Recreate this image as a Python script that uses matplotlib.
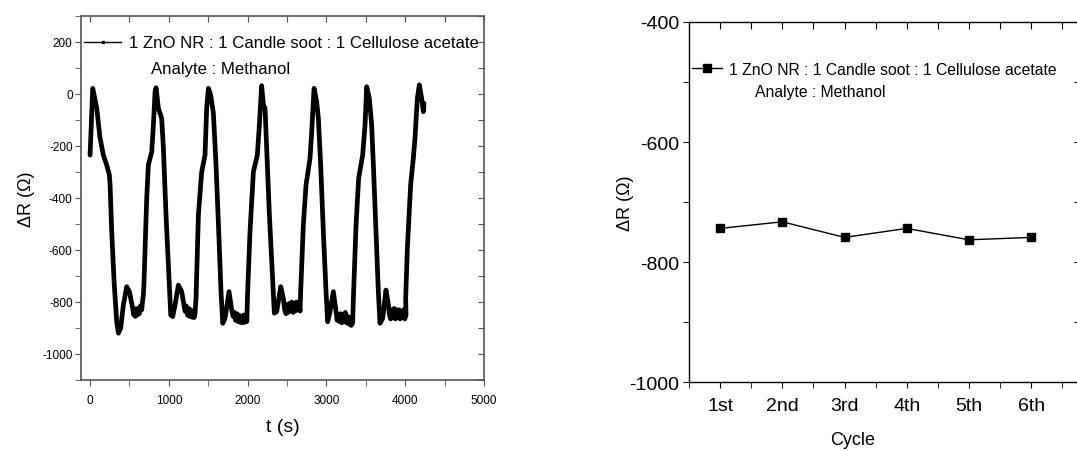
import matplotlib
matplotlib.use("Agg")
import matplotlib.pyplot as plt
from matplotlib.ticker import MultipleLocator

plt.rcParams["font.family"] = ["Liberation Sans", "DejaVu Sans"]
plt.rcParams["axes.unicode_minus"] = False

# Left panel: transient response
t_s = [0, 34, 85, 127, 169, 211, 245, 254, 275, 305, 338, 360, 389, 423, 465, 499,
       541, 555, 565, 575, 590, 600, 613, 625, 640, 656, 665, 677,
       685, 719, 740, 783, 804, 825, 838, 867, 909, 931, 964, 994, 1024, 1049, 1079,
       1121, 1163, 1185, 1206, 1220, 1235, 1250, 1262, 1275, 1290, 1305, 1320, 1332, 1345,
       1375, 1417, 1459, 1480, 1502, 1531, 1565, 1599, 1633, 1662, 1684, 1713, 1764,
       1798, 1815, 1830, 1845, 1860, 1875, 1890, 1905, 1920, 1935, 1950, 1965, 1980, 1990, 1997,
       2030, 2073, 2123, 2149, 2178, 2200, 2221, 2242, 2276, 2318, 2339, 2369, 2420,
       2453, 2470, 2487, 2500, 2515, 2530, 2545, 2560, 2575, 2590, 2605, 2620, 2640, 2655,
       2665, 2673,
       2707, 2741, 2792, 2813, 2843, 2876, 2898, 2927, 2961, 2995, 3016, 3046, 3088,
       3122, 3135, 3150, 3165, 3180, 3195, 3210, 3225, 3240, 3255, 3270, 3285, 3300, 3315,
       3333, 3342,
       3376, 3409, 3460, 3490, 3511, 3545, 3574, 3596, 3629, 3659, 3680, 3714, 3756,
       3786, 3800, 3815, 3830, 3845, 3860, 3875, 3890, 3905, 3920, 3935, 3950, 3965, 3980,
       3995, 4010, 4006,
       4027, 4069, 4103, 4124, 4154, 4179, 4209, 4230, 4239]
dR = [-235, 22, -55, -170, -235, -273, -311, -350, -530, -722, -876, -920, -900, -811, -741, -760,
      -824, -850, -830, -855, -825, -850, -830, -845, -815, -830, -800, -773,
      -722, -401, -273, -222, -119, 9, 24, -55, -94, -209, -465, -658, -850, -856, -811,
      -735, -760, -800, -835, -815, -850, -825, -855, -830, -858, -835, -860, -845, -786,
      -465, -299, -235, -55, 22, -4, -74, -273, -530, -760, -882, -863, -760,
      -831, -855, -840, -870, -845, -875, -850, -878, -855, -880, -850, -878, -860, -875, -786,
      -530, -299, -235, -119, 32, -42, -55, -209, -465, -722, -843, -837, -741,
      -786, -830, -845, -810, -840, -805, -835, -800, -840, -805, -835, -800, -830, -810,
      -835, -760,
      -504, -350, -247, -145, 22, -29, -94, -273, -530, -760, -876, -837, -760,
      -837, -870, -850, -875, -845, -880, -850, -875, -840, -880, -855, -885, -860, -890,
      -880, -786,
      -504, -324, -235, -119, 28, -17, -119, -273, -530, -760, -882, -863, -754,
      -811, -850, -865, -830, -860, -825, -865, -830, -860, -830, -865, -835, -860, -830,
      -865, -850, -786,
      -594, -350, -247, -170, -17, 35, -17, -68, -36]

# Right panel: response per cycle
cycles = ["1st", "2nd", "3rd", "4th", "5th", "6th"]
cycle_pos = [1, 2, 3, 4, 5, 6]
dR_cycle = [-744, -733, -759, -744, -763, -759]

legend_label = "1 ZnO NR : 1 Candle soot : 1 Cellulose acetate"

fig = plt.figure(figsize=(10.77, 4.52), dpi=100)

# ---- left
ax1 = fig.add_axes([81 / 1077, 1 - 381 / 452, 403 / 1077, 364 / 452])
ax1.plot(t_s, dR, color="black", lw=3.4, solid_joinstyle="round", solid_capstyle="round")
ax1.plot([], [], color="black", lw=1, marker="s", markersize=2, label=legend_label)
ax1.set_xlim(-115, 5000)
ax1.set_ylim(-1100, 300)
ax1.xaxis.set_major_locator(MultipleLocator(1000))
ax1.xaxis.set_minor_locator(MultipleLocator(500))
ax1.yaxis.set_major_locator(MultipleLocator(200))
ax1.yaxis.set_minor_locator(MultipleLocator(100))
for s in ax1.spines.values():
    s.set_color("#555555")
    s.set_linewidth(1.2)
ax1.tick_params(which="both", direction="out", color="#555555", labelsize=8.5, length=4)
ax1.tick_params(axis="x", pad=6)
ax1.tick_params(axis="y", pad=2)
sec = ax1.secondary_xaxis("top")
sec.xaxis.set_major_locator(MultipleLocator(500))
sec.tick_params(direction="in", length=4, color="#555555", labeltop=False)
sec.spines["top"].set_visible(False)
secy = ax1.secondary_yaxis("right")
secy.yaxis.set_major_locator(MultipleLocator(100))
secy.tick_params(direction="in", length=4, color="#555555", labelright=False)
secy.spines["right"].set_visible(False)
ax1.set_xlabel("t (s)", fontsize=14, labelpad=9)
ax1.set_ylabel("ΔR (Ω)", fontsize=13, labelpad=5)
ax1.legend(loc="center left", bbox_to_anchor=(0.0, 0.926), frameon=False, borderpad=0,
           borderaxespad=0.2, handlelength=2.2, handletextpad=0.45,
           prop={"size": 12.1})
ax1.text(0.173, 0.855, "Analyte : Methanol", transform=ax1.transAxes,
         fontsize=12.1, va="center")

# ---- right
ax2 = fig.add_axes([689 / 1077, 1 - 383 / 452, 392 / 1077, 360 / 452])
ax2.plot(cycle_pos, dR_cycle, color="black", lw=1, marker="s", markersize=5.5,
         label=legend_label)
ax2.set_xlim(0.5, 6.8)
ax2.set_ylim(-1000, -400)
ax2.set_xticks(cycle_pos)
ax2.set_xticklabels(cycles)
ax2.xaxis.set_minor_locator(MultipleLocator(0.5))
ax2.yaxis.set_major_locator(MultipleLocator(200))
ax2.yaxis.set_minor_locator(MultipleLocator(100))
for s in ax2.spines.values():
    s.set_linewidth(1.0)
ax2.tick_params(which="both", direction="out", length=4, labelsize=14)
ax2.tick_params(axis="x", pad=7)
ax2.tick_params(axis="y", pad=3)
sec2 = ax2.secondary_xaxis("top")
sec2.set_xticks([1, 1.5, 2, 2.5, 3, 3.5, 4, 4.5, 5, 5.5, 6, 6.5])
sec2.tick_params(direction="in", length=5, labeltop=False)
sec2.spines["top"].set_visible(False)
secy2 = ax2.secondary_yaxis("right")
secy2.yaxis.set_major_locator(MultipleLocator(100))
secy2.tick_params(direction="in", length=5, labelright=False)
secy2.spines["right"].set_visible(False)
ax2.set_xlabel("Cycle", fontsize=13, va="center")
ax2.xaxis.set_label_coords(0.418, -0.16)
ax2.set_ylabel("ΔR (Ω)", fontsize=13, va="center")
ax2.yaxis.set_label_coords(-0.163, 0.5)
ax2.legend(loc="center left", bbox_to_anchor=(0.0, 0.869), frameon=False, borderpad=0,
           borderaxespad=0.2, handlelength=1.9, handletextpad=0.45,
           prop={"size": 11.3})
ax2.text(0.168, 0.806, "Analyte : Methanol", transform=ax2.transAxes,
         fontsize=11.3, va="center")

fig.savefig("out.png", dpi=100)
